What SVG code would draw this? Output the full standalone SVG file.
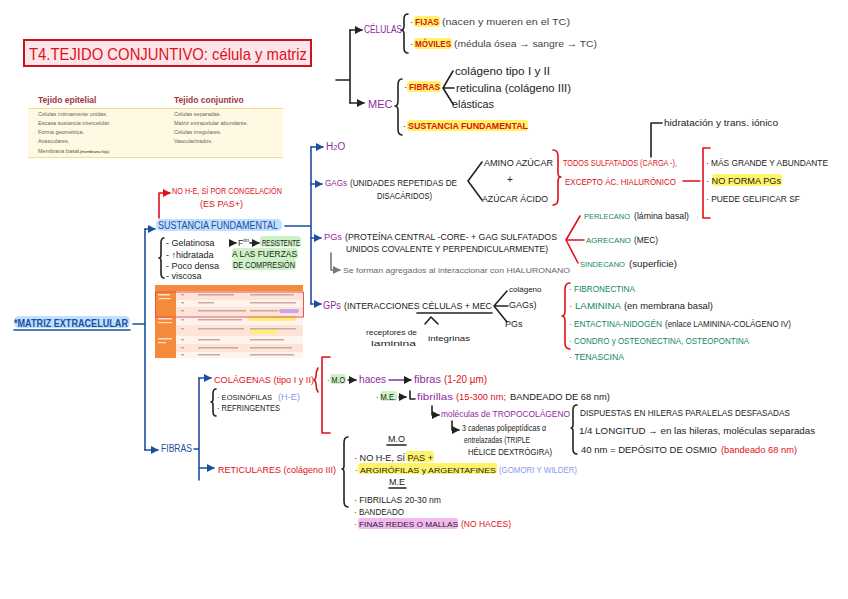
<svg xmlns="http://www.w3.org/2000/svg" width="848" height="599" viewBox="0 0 848 599">
<defs>
<style>
svg{font-size:9px;fill:#222}
text{font-family:"Liberation Sans",Arial,sans-serif}
.r{fill:#e0101a}.p{fill:#8e2ba0}.b{fill:#1d4f9e}.g{fill:#12895a}.gr{fill:#666}.lb{fill:#8a9cf0}.dk{fill:#444}
.sm{font-size:5.5px;fill:#666}
.ln{fill:none;stroke-width:1.6;stroke-linecap:round;stroke-linejoin:round}
.bl{stroke:#1d4f9e}.rd{stroke:#e0101a}.bk{stroke:#222}.gy{stroke:#777}
.hy{fill:#fff36a}.hp{fill:#f4b8f0}.hg{fill:#cdf2c6}.hb{fill:#bfe0ff}
</style>
<marker id="ab" viewBox="0 0 10 10" refX="9" refY="5" markerWidth="5" markerHeight="5" orient="auto"><path d="M0,0L10,5L0,10z" fill="#1d4f9e"/></marker>
<marker id="ar" viewBox="0 0 10 10" refX="9" refY="5" markerWidth="5" markerHeight="5" orient="auto"><path d="M0,0L10,5L0,10z" fill="#e0101a"/></marker>
<marker id="ak" viewBox="0 0 10 10" refX="9" refY="5" markerWidth="5" markerHeight="5" orient="auto"><path d="M0,0L10,5L0,10z" fill="#222"/></marker>
<marker id="ag" viewBox="0 0 10 10" refX="9" refY="5" markerWidth="5" markerHeight="5" orient="auto"><path d="M0,0L10,5L0,10z" fill="#777"/></marker>
</defs>
<rect width="848" height="599" fill="#fff"/>

<g id="highlights">
<rect class="hy" x="414" y="16" width="26" height="11" rx="3"/>
<rect class="hy" x="414" y="38" width="38" height="11" rx="3"/>
<rect class="hy" x="407" y="81" width="34" height="11" rx="3"/>
<rect class="hy" x="407" y="120" width="121" height="11" rx="3"/>
<rect class="hy" x="712" y="174" width="70" height="12" rx="3"/>
<rect class="hb" x="156" y="219" width="126" height="12" rx="5"/>
<rect class="hb" x="14" y="316" width="116" height="12" rx="5"/>
<rect class="hg" x="260" y="236" width="41" height="11" rx="3"/>
<rect class="hg" x="232" y="248" width="66" height="11" rx="3"/>
<rect class="hg" x="232" y="259" width="64" height="11" rx="3"/>
<rect class="hg" x="330" y="374" width="16" height="10" rx="3"/>
<rect class="hg" x="380" y="391" width="17" height="10" rx="3"/>
<rect class="hy" x="406" y="451" width="28" height="11" rx="3"/>
<rect class="hy" x="358" y="463" width="139" height="11" rx="3"/>
<rect class="hp" x="358" y="518" width="100" height="11" rx="3"/>
</g>

<g id="title">
<rect x="24" y="40" width="287" height="26" fill="#fde6ea" stroke="#d01020" stroke-width="2"/>
<text x="29" y="60" class="r" font-size="17" textLength="278" lengthAdjust="spacingAndGlyphs">T4.TEJIDO CONJUNTIVO: célula y matriz</text>
</g>

<g id="tabla-tejidos">
<rect x="28" y="108" width="255" height="50" fill="#fff8e2"/>
<line x1="28" y1="108.5" x2="283" y2="108.5" stroke="#f6dd8a" stroke-width="1"/>
<line x1="28" y1="157.5" x2="283" y2="157.5" stroke="#f6dd8a" stroke-width="1"/>
<text x="38" y="103" font-size="8.5" font-weight="bold" fill="#a3353a">Tejido epitelial</text>
<text x="174" y="103" font-size="8.5" font-weight="bold" fill="#a3353a">Tejido conjuntivo</text>
<text class="sm" x="38" y="116">Células íntimamente unidas.</text>
<text class="sm" x="38" y="125">Escasa sustancia intercelular.</text>
<text class="sm" x="38" y="134">Forma geométrica.</text>
<text class="sm" x="38" y="143">Avasculares.</text>
<text class="sm" x="38" y="153">Membrana basal.</text>
<text x="80" y="153" font-size="4">(membrana hija)</text>
<text class="sm" x="174" y="116">Células separadas.</text>
<text class="sm" x="174" y="125">Matriz extracelular abundante.</text>
<text class="sm" x="174" y="134">Células irregulares.</text>
<text class="sm" x="174" y="143">Vascularizados.</text>
</g>

<g id="connectors">
<path class="ln bk" d="M336,80H350M350,30V103"/>
<path class="ln bk" d="M350,30H362" marker-end="url(#ak)"/>
<path class="ln bk" d="M350,103H364" marker-end="url(#ak)"/>
<path class="ln bk" d="M408,14q-4,0 -4,5v7q0,4 -3,4q3,0 3,4v14q0,5 4,5"/>
<path class="ln bk" d="M402,79q-4,0 -4,6v16q0,5 -3,5q3,0 3,5v18q0,6 4,6"/>
<path class="ln bk" d="M453,71L443,88L453,104M443,88H454" stroke-width="1.2"/>
<path class="ln bl" d="M133,324H145M145,229V450"/>
<path class="ln bl" d="M145,229H155" marker-end="url(#ab)"/>
<path class="ln bl" d="M145,450H158" marker-end="url(#ab)"/>
<path class="ln bl" d="M285,226H311M311,147V304"/>
<path class="ln bl" d="M311,147H323" marker-end="url(#ab)"/>
<path class="ln bl" d="M311,184H322" marker-end="url(#ab)"/>
<path class="ln bl" d="M311,238H321" marker-end="url(#ab)"/>
<path class="ln bl" d="M311,304H321" marker-end="url(#ab)"/>
<path class="ln rd" d="M159,218V193H170" marker-end="url(#ar)"/>
<path class="ln bk" d="M164,238q-3,0 -3,5v12q0,3 -2,3q2,0 2,3v12q0,5 3,5" stroke-width="1.2"/>
<path class="ln bk" d="M231,243H236" marker-end="url(#ak)" stroke-width="1.2"/>
<path class="ln bk" d="M250,243H259" marker-end="url(#ak)" stroke-width="1.2"/>
<path class="ln bk" d="M482,162L468,181L482,200" stroke-width="1.3"/>
<path class="ln rd" d="M553,150q5,0 5,6v17q0,4 3,4q-3,0 -3,4v18q0,6 -5,6"/>
<path class="ln bk" d="M651,157V123H662"/>
<path class="ln rd" d="M683,181H700M710,148H703V218H710"/>
<path class="ln gy" d="M331,253V270H340" marker-end="url(#ag)" stroke-width="1.2"/>
<path class="ln rd" d="M580,216L566,240L578,263M566,240H584"/>
<path class="ln bk" d="M492,313H417" stroke-width="1.1"/>
<path class="ln bk" d="M507,291L494,306L507,322M494,306H508" stroke-width="1.3"/>
<path class="ln bk" d="M425,324L431,317L438,324" stroke-width="1.2"/>
<path class="ln rd" d="M570,283q-5,0 -5,6v22q0,5 -3,5q3,0 3,5v22q0,6 5,6"/>
<path class="ln bl" d="M194,449H199M199,378V480"/>
<path class="ln bl" d="M199,378H211" marker-end="url(#ab)"/>
<path class="ln bl" d="M199,468H214" marker-end="url(#ab)"/>
<path class="ln bk" d="M216,389q-3,0 -3,5v5q0,3 -2,3q2,0 2,3v6q0,5 3,5" stroke-width="1.2"/>
<path class="ln rd" d="M330,357H322V433H330"/>
<path class="ln rd" d="M318,368q-2,3 -2,8q0,3 -2,4q2,1 2,4q0,5 2,8" stroke-width="1.2"/>
<path class="ln bk" d="M348,380H356" marker-end="url(#ak)" stroke-width="1.3"/>
<path class="ln" stroke="#8e2ba0" d="M389,380H411" marker-end="url(#ak)" stroke-width="1.1"/>
<path class="ln bk" d="M399,397H406" marker-end="url(#ak)" stroke-width="1.3"/>
<path class="ln bk" d="M410,391V399H415" stroke-width="1.3"/>
<path class="ln bk" d="M432,406V415H439" marker-end="url(#ak)" stroke-width="1.3"/>
<path class="ln bk" d="M452,421V430H459" marker-end="url(#ak)" stroke-width="1.3"/>
<path class="ln bk" d="M577,405q-4,0 -4,5v15q0,3 -2,3q2,0 2,3v18q0,5 4,5" stroke-width="1.2"/>
<path class="ln bk" d="M348,437q-4,0 -4,6v23q0,3 -2,3q2,0 2,3v29q0,6 4,6" stroke-width="1.3"/>
<path class="ln bk" d="M387,445H406M389,488H406" stroke-width="1"/>
<path class="ln bl" d="M14,330H130" stroke-width="1.1"/>
</g>

<g id="nodo-celulas">
<text x="364" y="33" class="p" font-size="10" textLength="38" lengthAdjust="spacingAndGlyphs">CÉLULAS</text>
<text x="410" y="25" font-size="9.5">·</text>
<text x="415" y="25" class="r" font-size="9.5" font-weight="bold" textLength="24" lengthAdjust="spacingAndGlyphs">FIJAS</text>
<text x="442" y="25" class="dk" font-size="9.5" textLength="128" lengthAdjust="spacingAndGlyphs">(nacen y mueren en el TC)</text>
<text x="410" y="47" font-size="9.5">·</text>
<text x="415" y="47" class="r" font-size="9" font-weight="bold" textLength="36" lengthAdjust="spacingAndGlyphs">MÓVILES</text>
<text x="454" y="47" class="dk" font-size="9.5" textLength="143" lengthAdjust="spacingAndGlyphs">(médula ósea → sangre → TC)</text>
</g>

<g id="nodo-mec">
<text x="368" y="108" class="p" font-size="11">MEC</text>
<text x="404" y="90" font-size="9.5">·</text>
<text x="409" y="90" class="r" font-size="9" font-weight="bold" textLength="31" lengthAdjust="spacingAndGlyphs">FIBRAS</text>
<text x="455" y="75" font-size="11.5" textLength="95" lengthAdjust="spacingAndGlyphs">colágeno tipo I y II</text>
<text x="456" y="92" font-size="11.5" textLength="115" lengthAdjust="spacingAndGlyphs">reticulina (colágeno III)</text>
<text x="452" y="108" font-size="11.5" textLength="42" lengthAdjust="spacingAndGlyphs">elásticas</text>
<text x="403" y="129" font-size="9.5">·</text>
<text x="408" y="129" class="r" font-size="9" font-weight="bold" textLength="120" lengthAdjust="spacingAndGlyphs">SUSTANCIA FUNDAMENTAL</text>
</g>

<g id="nodo-matriz">
<text x="14" y="327" class="b" font-size="10.5" font-weight="bold" textLength="114" lengthAdjust="spacingAndGlyphs">*MATRIZ EXTRACELULAR</text>
</g>

<g id="nodo-sustancia">
<text x="158" y="229" class="b" font-size="10" textLength="120" lengthAdjust="spacingAndGlyphs">SUSTANCIA FUNDAMENTAL</text>
<text x="172" y="194" class="r" font-size="9" textLength="110" lengthAdjust="spacingAndGlyphs">NO H-E, SÍ POR CONGELACIÓN</text>
<text x="200" y="207" class="r" font-size="9">(ES PAS+)</text>
<text x="166" y="246" font-size="9">- Gelatinosa</text>
<text x="166" y="258" font-size="9">- ↑hidratada</text>
<text x="166" y="269" font-size="9">- Poco densa</text>
<text x="166" y="279" font-size="9">- viscosa</text>
<text x="238" y="246" font-size="8.5">F</text>
<text x="243" y="242" font-size="5.5">ón</text>
<text x="262" y="246" font-size="8.5" textLength="38" lengthAdjust="spacingAndGlyphs">RESISTENTE</text>
<text x="232" y="257" font-size="8.5" textLength="65" lengthAdjust="spacingAndGlyphs">A LAS FUERZAS</text>
<text x="233" y="268" font-size="8.5" textLength="62" lengthAdjust="spacingAndGlyphs">DE COMPRESIÓN</text>
</g>

<g id="tabla-fibras">
<rect x="155" y="285" width="148" height="6" fill="#f58a3a"/>
<rect x="155" y="291" width="21" height="67" fill="#f58a3a"/>
<rect x="176" y="291" width="127" height="9" fill="#fde3d8"/>
<rect x="176" y="300" width="127" height="7" fill="#fff3ee"/>
<rect x="176" y="307" width="127" height="9" fill="#fde3d8"/>
<rect x="176" y="316" width="127" height="9" fill="#fff3ee"/>
<rect x="176" y="325" width="127" height="11" fill="#fde3d8"/>
<rect x="176" y="336" width="127" height="8" fill="#fff3ee"/>
<rect x="176" y="344" width="127" height="8" fill="#fde3d8"/>
<rect x="176" y="352" width="127" height="6" fill="#fff3ee"/>
<rect x="248" y="316" width="48" height="5" rx="2" fill="#fbf07a"/>
<rect x="250" y="330" width="28" height="4" rx="2" fill="#fbf07a"/>
<rect x="279" y="309" width="20" height="4" rx="2" fill="#c9a6ec"/>
<g fill="#c9a99e">
<rect x="181" y="294" width="3" height="1.5"/><rect x="198" y="294" width="36" height="1.5"/><rect x="250" y="294" width="44" height="1.5"/>
<rect x="181" y="302" width="3" height="1.5"/><rect x="198" y="302" width="16" height="1.5"/><rect x="250" y="302" width="46" height="1.5"/>
<rect x="181" y="310" width="3" height="1.5"/><rect x="198" y="310" width="48" height="1.5"/><rect x="250" y="310" width="28" height="1.5"/>
<rect x="181" y="319" width="3" height="1.5"/><rect x="198" y="319" width="44" height="1.5"/>
<rect x="181" y="328" width="3" height="1.5"/><rect x="198" y="328" width="46" height="1.5"/><rect x="250" y="328" width="46" height="1.5"/>
<rect x="181" y="339" width="3" height="1.5"/><rect x="198" y="339" width="22" height="1.5"/><rect x="250" y="339" width="34" height="1.5"/>
<rect x="181" y="347" width="3" height="1.5"/><rect x="198" y="347" width="40" height="1.5"/><rect x="250" y="347" width="42" height="1.5"/>
<rect x="181" y="354" width="3" height="1.5"/><rect x="198" y="354" width="22" height="1.5"/><rect x="250" y="354" width="44" height="1.5"/>
</g>
<g fill="#fde0cc">
<rect x="158" y="294" width="12" height="1.5"/><rect x="159" y="298" width="12" height="1.2"/>
<rect x="158" y="318" width="14" height="1.5"/><rect x="158" y="322" width="14" height="1.2"/>
<rect x="158" y="338" width="14" height="1.5"/><rect x="158" y="342" width="8" height="1.2"/>
</g>
<rect x="155.5" y="292" width="148" height="25" fill="none" stroke="#e8505a" stroke-width="1"/>
</g>

<g id="nodo-h2o">
<text x="326" y="150" class="p" font-size="10">H<tspan font-size="7.5">2</tspan>O</text>
</g>

<g id="nodo-gags">
<text x="325" y="186" class="p" font-size="9.5" textLength="22" lengthAdjust="spacingAndGlyphs">GAGs</text>
<text x="350" y="186" font-size="9" textLength="107" lengthAdjust="spacingAndGlyphs">(UNIDADES REPETIDAS DE</text>
<text x="377" y="199" font-size="9" textLength="55" lengthAdjust="spacingAndGlyphs">DISACÁRIDOS)</text>
<text x="484" y="166" font-size="8.5" textLength="69" lengthAdjust="spacingAndGlyphs">AMINO AZÚCAR</text>
<text x="507" y="183" font-size="10">+</text>
<text x="482" y="202" font-size="8.5" textLength="66" lengthAdjust="spacingAndGlyphs">AZÚCAR ÁCIDO</text>
<text x="563" y="166" class="r" font-size="8.5" textLength="114" lengthAdjust="spacingAndGlyphs">TODOS SULFATADOS (CARGA -),</text>
<text x="565" y="185" class="r" font-size="9" textLength="111" lengthAdjust="spacingAndGlyphs">EXCEPTO ÁC. HIALURÓNICO</text>
<text x="664" y="126" font-size="9.5" textLength="114" lengthAdjust="spacingAndGlyphs">hidratación y trans. iónico</text>
<text x="706" y="166" font-size="9" textLength="122" lengthAdjust="spacingAndGlyphs">· MÁS GRANDE Y ABUNDANTE</text>
<text x="706" y="184" font-size="9" textLength="75" lengthAdjust="spacingAndGlyphs">· NO FORMA PGs</text>
<text x="706" y="202" font-size="9" textLength="94" lengthAdjust="spacingAndGlyphs">· PUEDE GELIFICAR SF</text>
</g>

<g id="nodo-pgs">
<text x="324" y="240" class="p" font-size="9.5" textLength="18" lengthAdjust="spacingAndGlyphs">PGs</text>
<text x="345" y="240" font-size="9" textLength="212" lengthAdjust="spacingAndGlyphs">(PROTEÍNA CENTRAL -CORE- + GAG SULFATADOS</text>
<text x="346" y="252" font-size="9" textLength="202" lengthAdjust="spacingAndGlyphs">UNIDOS COVALENTE Y PERPENDICULARMENTE)</text>
<text x="343" y="273" class="gr" font-size="8" textLength="227" lengthAdjust="spacingAndGlyphs">Se forman agregados al interaccionar con HIALURONANO</text>
<text x="584" y="219" class="g" font-size="8" textLength="46" lengthAdjust="spacingAndGlyphs">PERLECANO</text>
<text x="634" y="219" font-size="9" textLength="55" lengthAdjust="spacingAndGlyphs">(lámina basal)</text>
<text x="586" y="243" class="g" font-size="8" textLength="45" lengthAdjust="spacingAndGlyphs">AGRECANO</text>
<text x="634" y="243" font-size="9" textLength="24" lengthAdjust="spacingAndGlyphs">(MEC)</text>
<text x="580" y="267" class="g" font-size="7.8" textLength="45" lengthAdjust="spacingAndGlyphs">SINDECANO</text>
<text x="629" y="267" font-size="9" textLength="48" lengthAdjust="spacingAndGlyphs">(superficie)</text>
</g>

<g id="nodo-gps">
<text x="323" y="309" class="p" font-size="10" textLength="18" lengthAdjust="spacingAndGlyphs">GPs</text>
<text x="344" y="309" font-size="9" textLength="148" lengthAdjust="spacingAndGlyphs">(INTERACCIONES CÉLULAS + MEC</text>
<text x="509" y="292" font-size="8">colágeno</text>
<text x="509" y="308" font-size="9">GAGs)</text>
<text x="505" y="327" font-size="9">PGs</text>
<text x="366" y="335" font-size="8" textLength="51" lengthAdjust="spacingAndGlyphs">receptores de</text>
<text x="371" y="346" font-size="8" textLength="45" lengthAdjust="spacingAndGlyphs">laminina</text>
<text x="428" y="341" font-size="8" textLength="42" lengthAdjust="spacingAndGlyphs">integrinas</text>
<text x="569" y="292" class="g" font-size="9" textLength="66" lengthAdjust="spacingAndGlyphs">· FIBRONECTINA</text>
<text x="569" y="309" class="g" font-size="9" textLength="52" lengthAdjust="spacingAndGlyphs">· LAMININA</text>
<text x="624" y="309" font-size="9" textLength="89" lengthAdjust="spacingAndGlyphs">(en membrana basal)</text>
<text x="569" y="327" class="g" font-size="8.3" textLength="93" lengthAdjust="spacingAndGlyphs">· ENTACTINA-NIDOGÉN</text>
<text x="665" y="327" font-size="8.5" textLength="126" lengthAdjust="spacingAndGlyphs">(enlace LAMININA-COLÁGENO IV)</text>
<text x="569" y="344" class="g" font-size="9" textLength="180" lengthAdjust="spacingAndGlyphs">· CONDRO y OSTEONECTINA, OSTEOPONTINA</text>
<text x="569" y="360" class="g" font-size="9" textLength="55" lengthAdjust="spacingAndGlyphs">· TENASCINA</text>
</g>

<g id="nodo-fibras">
<text x="161" y="452" class="b" font-size="10" textLength="31" lengthAdjust="spacingAndGlyphs">FIBRAS</text>
</g>

<g id="nodo-colagenas">
<text x="214" y="383" class="r" font-size="9.4" textLength="100" lengthAdjust="spacingAndGlyphs">COLÁGENAS (tipo I y II)</text>
<text x="217" y="400" font-size="8" textLength="55" lengthAdjust="spacingAndGlyphs">· EOSINÓFILAS</text>
<text x="278" y="400" class="lb" font-size="9" textLength="22" lengthAdjust="spacingAndGlyphs">(H-E)</text>
<text x="217" y="411" font-size="9" textLength="63" lengthAdjust="spacingAndGlyphs">· REFRINGENTES</text>
<text x="327" y="383" font-size="8.5" textLength="18" lengthAdjust="spacingAndGlyphs">· M.O</text>
<text x="359" y="383" class="p" font-size="10" textLength="27" lengthAdjust="spacingAndGlyphs">haces</text>
<text x="414" y="383" class="p" font-size="10" textLength="27" lengthAdjust="spacingAndGlyphs">fibras</text>
<text x="444" y="383" class="r" font-size="10" textLength="43" lengthAdjust="spacingAndGlyphs">(1-20 µm)</text>
<text x="376" y="400" font-size="8.5" textLength="20" lengthAdjust="spacingAndGlyphs">· M.E.</text>
<text x="417" y="400" class="p" font-size="9.5" textLength="36" lengthAdjust="spacingAndGlyphs">fibrillas</text>
<text x="456" y="400" class="r" font-size="9" textLength="50" lengthAdjust="spacingAndGlyphs">(15-300 nm;</text>
<text x="510" y="400" font-size="9" textLength="100" lengthAdjust="spacingAndGlyphs">BANDEADO DE 68 nm)</text>
<text x="441" y="417" class="p" font-size="9" textLength="129" lengthAdjust="spacingAndGlyphs">moléculas de TROPOCOLÁGENO</text>
<text x="462" y="431" font-size="8.5" textLength="84" lengthAdjust="spacingAndGlyphs">3 cadenas polipeptídicas α</text>
<text x="464" y="443" font-size="8.5" textLength="66" lengthAdjust="spacingAndGlyphs">entrelazadas (TRIPLE</text>
<text x="468" y="455" font-size="8.5" textLength="84" lengthAdjust="spacingAndGlyphs">HÉLICE DEXTRÓGIRA)</text>
<text x="580" y="416" font-size="8.5" textLength="210" lengthAdjust="spacingAndGlyphs">DISPUESTAS EN HILERAS PARALELAS DESFASADAS</text>
<text x="579" y="434" font-size="9" textLength="236" lengthAdjust="spacingAndGlyphs">1/4 LONGITUD → en las hileras, moléculas separadas</text>
<text x="581" y="453" font-size="9" textLength="136" lengthAdjust="spacingAndGlyphs">40 nm = DEPÓSITO DE OSMIO</text>
<text x="721" y="453" class="r" font-size="9" textLength="76" lengthAdjust="spacingAndGlyphs">(bandeado 68 nm)</text>
</g>

<g id="nodo-reticulares">
<text x="218" y="473" class="r" font-size="8.8" textLength="118" lengthAdjust="spacingAndGlyphs">RETICULARES (colágeno III)</text>
<text x="388" y="442" font-size="9">M.O</text>
<text x="354" y="461" font-size="9" textLength="79" lengthAdjust="spacingAndGlyphs">· NO H-E, SÍ PAS +</text>
<text x="355" y="473" font-size="8" textLength="141" lengthAdjust="spacingAndGlyphs">· ARGIRÓFILAS y ARGENTAFINES</text>
<text x="499" y="473" class="lb" font-size="9" textLength="78" lengthAdjust="spacingAndGlyphs">(GOMORI Y WILDER)</text>
<text x="389" y="485" font-size="9">M.E</text>
<text x="354" y="503" font-size="8.5" textLength="87" lengthAdjust="spacingAndGlyphs">· FIBRILLAS 20-30 nm</text>
<text x="354" y="515" font-size="8.5" textLength="50" lengthAdjust="spacingAndGlyphs">· BANDEADO</text>
<text x="354" y="527" font-size="8" textLength="104" lengthAdjust="spacingAndGlyphs">· FINAS REDES O MALLAS</text>
<text x="461" y="527" class="r" font-size="9" textLength="50" lengthAdjust="spacingAndGlyphs">(NO HACES)</text>
</g>
</svg>
